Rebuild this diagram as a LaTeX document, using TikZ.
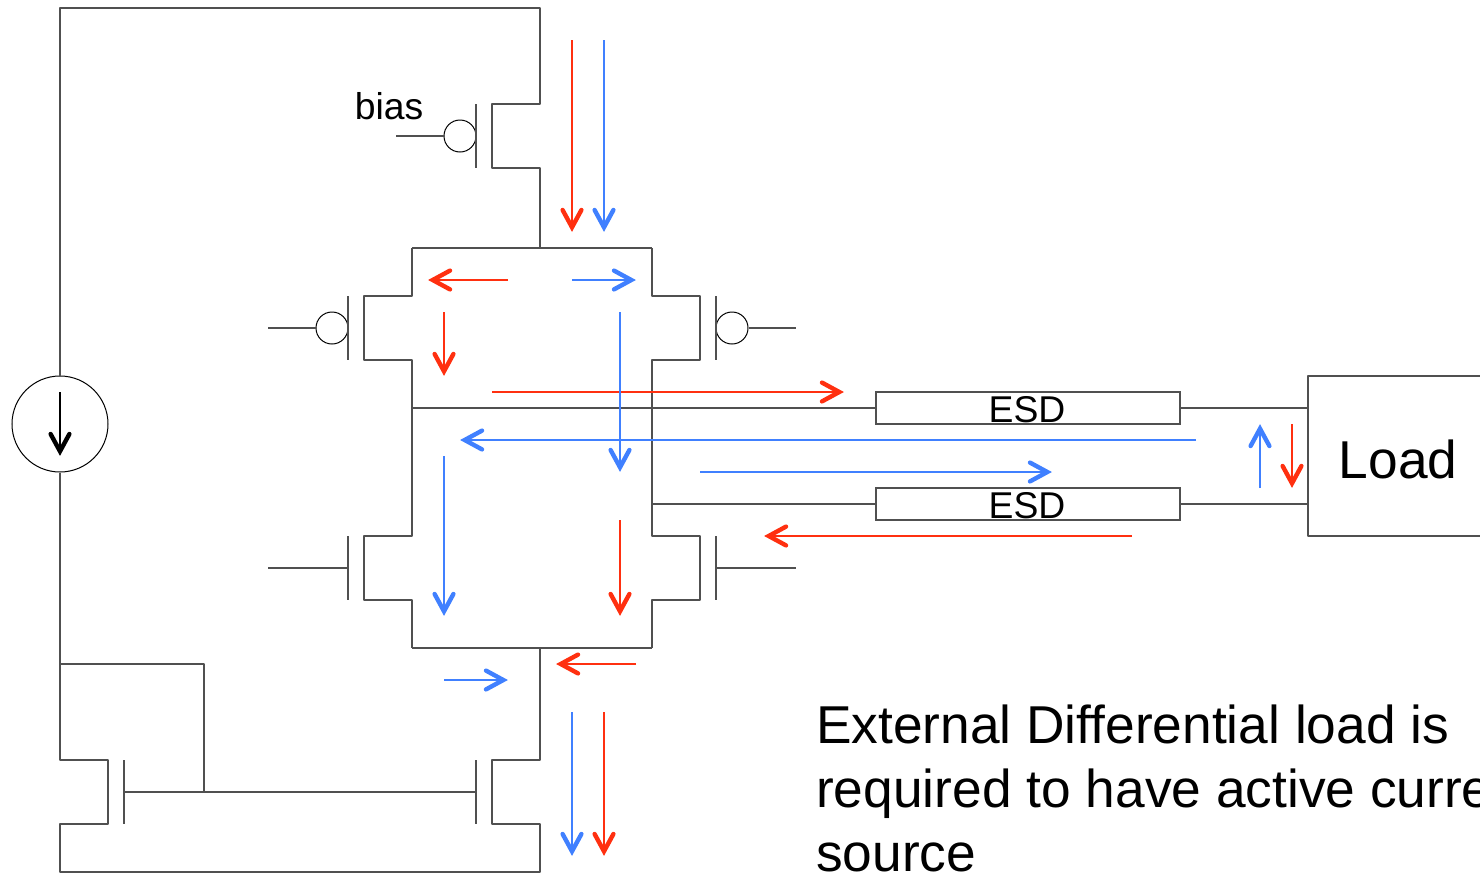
\documentclass[tikz,border=0pt]{standalone}
\usepackage{fontspec}
\setmainfont{Liberation Sans}
\usetikzlibrary{arrows.meta,positioning}
\definecolor{wireGrey}{HTML}{505050}
\definecolor{flowRed}{HTML}{FF3010}
\definecolor{flowBlue}{HTML}{4080FF}
\pgfdeclarearrow{
	name=flowHead,
	setup code={
		\pgfarrowssettipend{0pt}
		\pgfarrowssetbackend{-24pt}
		\pgfarrowssetlineend{-6pt}
		\pgfarrowssetvisualbackend{-6pt}
	},
	drawing code={
		\pgfsetdash{}{0pt}
		\pgfsetlinewidth{4.4pt}
		\pgfsetroundcap
		\pgfsetmiterjoin
		\pgfpathmoveto{\pgfpoint{-22pt}{9.4pt}}
		\pgfpathlineto{\pgfpoint{-4.7pt}{0pt}}
		\pgfpathlineto{\pgfpoint{-22pt}{-9.4pt}}
		\pgfusepathqstroke
	}
}
\tikzset{wire/.style={line width=1.3pt,color=wireGrey,line join=round},
		bubble/.style={circle,draw=black,line width=1pt,minimum size=32pt,inner sep=0pt},
		source/.style={circle,draw=black,line width=1pt,minimum size=96pt,inner sep=0pt},
		esdBox/.style={rectangle,draw=wireGrey,line width=1.3pt,minimum width=304pt,minimum height=32pt,inner sep=0pt},
		flowTip/.style={-flowHead},
		flowR/.style={flowTip,line width=1.3pt,color=flowRed},
		flowB/.style={flowTip,line width=1.3pt,color=flowBlue},
		midText/.style={font=\fontsize{37.3}{37.3}\selectfont},
		bigText/.style={font=\fontsize{53.3}{64}\selectfont,align=left,anchor=north west,inner sep=0pt},
		every node/.style={align=center}}
\begin{document}
\begin{tikzpicture}[x=1pt,y=-1pt]
\useasboundingbox (0,0) rectangle (1480,873);
\clip (0,0) rectangle (1480,873);
% blocks
\node[source] (isrc) at (60,424) {};
\node[esdBox] (esdTop) at (1028,408) {};
\node[esdBox] (esdBot) at (1028,504) {};
\node[midText] (esdTopText) at (1027,410) {ESD};
\node[midText] (esdBotText) at (1027,506) {ESD};
\node[bubble] (bubBias) at (460,136) {};
\node[bubble] (bubLeft) at (332,328) {};
\node[bubble] (bubRight) at (732,328) {};
\node[midText] (biasText) at (389,106) {bias};
\node[font=\fontsize{53.3}{53.3}\selectfont] (loadText) at (1398,459) {Load};
\node[bigText] (noteText) at (816,705) {External Differential load is\\[0pt]required to have active current\\[0pt]source};
% junctions
\coordinate (topL) at (412,248);
\coordinate (topR) at (652,248);
\coordinate (topM) at (540,248);
\coordinate (botL) at (412,648);
\coordinate (botR) at (652,648);
\coordinate (botM) at (540,648);
\coordinate (midL) at (412,408);
\coordinate (midR) at (652,504);
\coordinate (mirL) at (60,664);
\coordinate (mirG) at (204,792);
% supply and bias device
\draw[wire] (isrc.north) -- (60,8) -- (540,8) -- (540,104) -- (492,104) -- (492,168) -- (540,168) -- (topM);
\draw[wire] (476,104) -- (476,168);
\draw[wire] (396,136) -- (bubBias.west);
% differential pair
\draw[wire] (topL) -- (topR);
\draw[wire] (topL) -- (412,296) -- (364,296) -- (364,360) -- (412,360) -- (midL) -- (412,536) -- (364,536) -- (364,600) -- (412,600) -- (botL);
\draw[wire] (topR) -- (652,296) -- (700,296) -- (700,360) -- (652,360) -- (midR) -- (652,536) -- (700,536) -- (700,600) -- (652,600) -- (botR);
\draw[wire] (botL) -- (botR);
% gates
\draw[wire] (348,296) -- (348,360);
\draw[wire] (716,296) -- (716,360);
\draw[wire] (268,328) -- (bubLeft.west);
\draw[wire] (bubRight.east) -- (796,328);
\draw[wire] (348,536) -- (348,600);
\draw[wire] (716,536) -- (716,600);
\draw[wire] (268,568) -- (348,568);
\draw[wire] (716,568) -- (796,568);
% load
\draw[wire] (midL) -- (esdTop.west);
\draw[wire] (midR) -- (esdBot.west);
\draw[wire] (esdTop.east) -- (1308,408);
\draw[wire] (esdBot.east) -- (1308,504);
\draw[wire] (1490,376) -- (1308,376) -- (1308,536) -- (1490,536);
% current mirror
\draw[wire] (isrc.south) -- (mirL) -- (60,760) -- (108,760) -- (108,824) -- (60,824) -- (60,872) -- (540,872) -- (540,824) -- (492,824) -- (492,760) -- (540,760) -- (botM);
\draw[wire] (124,760) -- (124,824);
\draw[wire] (476,760) -- (476,824);
\draw[wire] (124,792) -- (476,792);
\draw[wire] (mirL) -- (204,664) -- (mirG);
% source arrow
\coordinate (isrcA) at (60,392);
\coordinate (isrcB) at (60,456);
\draw[flowTip,line width=1.3pt,black] (isrcA) -- (isrcB);
% currents, start/end
\foreach \nm/\xa/\ya/\xb/\yb in {a/572/40/572/232,b/508/280/428/280,c/444/312/444/376,d/492/392/844/392,e/620/520/620/616,f/1132/536/764/536,g/1292/424/1292/488,h/636/664/556/664,i/604/712/604/856}
{
	\coordinate (redS\nm) at (\xa,\ya);
	\coordinate (redE\nm) at (\xb,\yb);
	\draw[flowR] (redS\nm) -- (redE\nm);
}
\foreach \nm/\xa/\ya/\xb/\yb in {a/604/40/604/232,b/572/280/636/280,c/620/312/620/472,d/1196/440/460/440,e/700/472/1052/472,f/444/456/444/616,g/1260/488/1260/424,h/444/680/508/680,i/572/712/572/856}
{
	\coordinate (blueS\nm) at (\xa,\ya);
	\coordinate (blueE\nm) at (\xb,\yb);
	\draw[flowB] (blueS\nm) -- (blueE\nm);
}
\end{tikzpicture}
\end{document}
